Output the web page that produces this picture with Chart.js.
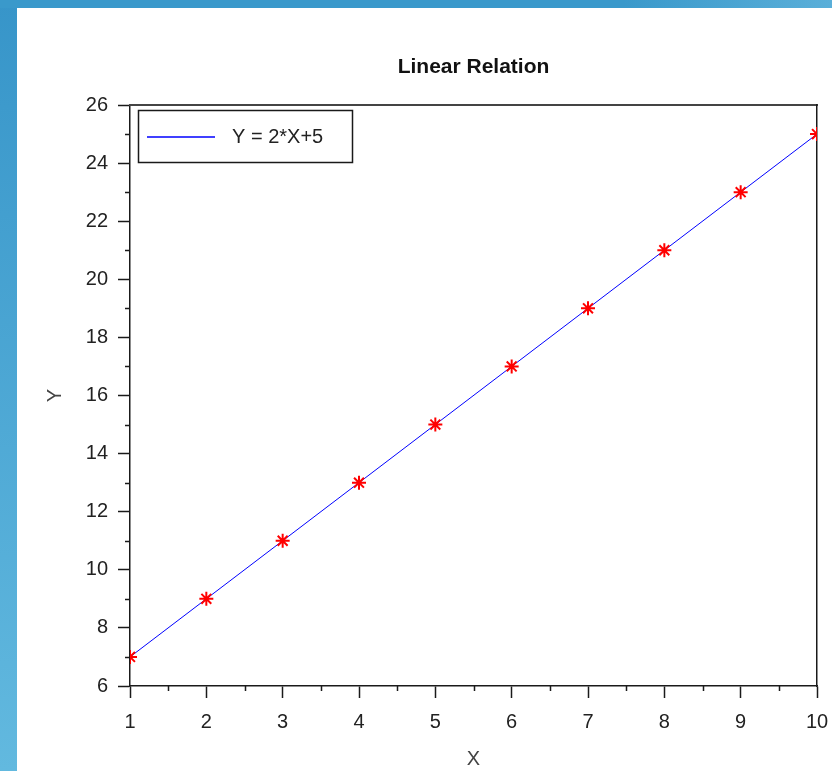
<!DOCTYPE html>
<html lang="en">
    <head>
        <meta charset="utf-8"/>
        <title>Linear Relation</title>
        <script src="https://cdn.jsdelivr.net/npm/chart.js"></script>
        <style type="text/css">
            body {
                margin: 0;
                width: 832px;
                height: 771px;
                overflow: hidden;
                background: linear-gradient(to bottom, #3795c9, #62b9df);
            }
            .topband {
                position: absolute;
                left: 0;
                top: 0;
                width: 832px;
                height: 8px;
                background: linear-gradient(to right, #3a99cb, #3a99cb 75%, #5aafd9);
            }
            .panel {
                position: absolute;
                left: 17px;
                top: 8px;
                width: 815px;
                height: 763px;
                background: #ffffff;
            }
        </style>
    </head>
    <body>
        <div class="topband"></div>
        <div class="panel">
            <canvas id="myChart" width="815" height="763"></canvas>
        </div>

        <script>
            // data
            var xValues = [1, 2, 3, 4, 5, 6, 7, 8, 9, 10];
            var yValues = [7, 9, 11, 13, 15, 17, 19, 21, 23, 25];
            var seriesLabel = 'Y = 2*X+5';
            var chartTitle = 'Linear Relation';
            var xTitle = 'X';
            var yTitle = 'Y';

            var points = [];
            for (var i = 0; i < xValues.length; i++) {
                points.push({x: xValues[i], y: yValues[i]});
            }

            var axisColor = '#1a1a1a';
            var fontName = "'Liberation Sans', Arial, sans-serif";

            // small ticks between the numbered ones
            const minorTicks = {
                id: 'minorTicks',
                afterDraw(chart) {
                    var ctx = chart.ctx;
                    var xs = chart.scales.x, ys = chart.scales.y;
                    ctx.save();
                    ctx.strokeStyle = axisColor;
                    ctx.lineWidth = 1.5;
                    ctx.beginPath();
                    for (var v = xs.min + 0.5; v < xs.max; v += 1) {
                        var px = Math.round(xs.getPixelForValue(v)) + 0.5;
                        ctx.moveTo(px, ys.bottom);
                        ctx.lineTo(px, ys.bottom + 5);
                    }
                    for (var w = ys.min + 1; w < ys.max; w += 2) {
                        var py = Math.round(ys.getPixelForValue(w)) + 0.5;
                        ctx.moveTo(xs.left, py);
                        ctx.lineTo(xs.left - 5, py);
                    }
                    ctx.stroke();
                    ctx.restore();
                }
            };

            // legend box inside the upper left of the plot
            const boxLegend = {
                id: 'boxLegend',
                afterDraw(chart) {
                    var ctx = chart.ctx;
                    var a = chart.chartArea;
                    var ds = chart.data.datasets[0];
                    ctx.save();
                    ctx.strokeStyle = axisColor;
                    ctx.lineWidth = 1.5;
                    ctx.strokeRect(a.left + 8.5, a.top + 5.5, 214, 52);
                    ctx.strokeStyle = ds.borderColor;
                    ctx.lineWidth = 1.5;
                    ctx.beginPath();
                    ctx.moveTo(a.left + 17, a.top + 32);
                    ctx.lineTo(a.left + 85, a.top + 32);
                    ctx.stroke();
                    ctx.fillStyle = '#222';
                    ctx.font = '20px ' + fontName;
                    ctx.textBaseline = 'middle';
                    ctx.fillText(ds.label, a.left + 102, a.top + 32);
                    ctx.restore();
                }
            };

            const config = {
                type: 'line',
                data: {
                    datasets: [{
                        label: seriesLabel,
                        data: points,
                        borderColor: '#0000ff',
                        borderWidth: 1,
                        tension: 0,
                        pointStyle: 'star',
                        pointRadius: 7,
                        pointBorderWidth: 2,
                        pointBorderColor: '#ff0000',
                        pointBackgroundColor: '#ff0000',
                        clip: 0
                    }]
                },
                options: {
                    responsive: false,
                    animation: false,
                    layout: {padding: {left: 0, top: 0, right: 15, bottom: 0}},
                    plugins: {
                        legend: {display: false},
                        tooltip: {enabled: false}
                    },
                    scales: {
                        x: {
                            type: 'linear',
                            position: 'bottom',
                            min: 1,
                            max: 10,
                            ticks: {
                                stepSize: 1,
                                color: '#222',
                                padding: 12,
                                maxRotation: 0,
                                font: {family: fontName, size: 20}
                            },
                            grid: {
                                display: true,
                                drawOnChartArea: false,
                                drawTicks: true,
                                tickLength: 12,
                                tickColor: axisColor,
                                tickWidth: 1.5
                            },
                            border: {display: true, color: axisColor, width: 1.5},
                            title: {
                                display: true,
                                text: xTitle,
                                color: '#444',
                                padding: {top: 0, bottom: 0},
                                font: {family: fontName, size: 20}
                            },
                            afterFit: function (scale) {
                                scale.height = 85;
                                scale.paddingLeft = 0;
                                scale.paddingRight = 0;
                            }
                        },
                        y: {
                            type: 'linear',
                            position: 'left',
                            min: 6,
                            max: 26,
                            ticks: {
                                stepSize: 2,
                                color: '#222',
                                padding: 10,
                                font: {family: fontName, size: 20}
                            },
                            grid: {
                                display: true,
                                drawOnChartArea: false,
                                drawTicks: true,
                                tickLength: 12,
                                tickColor: axisColor,
                                tickWidth: 1.5
                            },
                            border: {display: true, color: axisColor, width: 1.5},
                            title: {
                                display: true,
                                text: yTitle,
                                color: '#444',
                                padding: {top: 26, bottom: 0},
                                font: {family: fontName, size: 20}
                            },
                            afterFit: function (scale) {
                                scale.width = 113;
                                scale.paddingTop = 0;
                                scale.paddingBottom = 0;
                            }
                        },
                        xTop: {
                            type: 'linear',
                            position: 'top',
                            display: true,
                            min: 1,
                            max: 10,
                            ticks: {display: false},
                            grid: {display: false},
                            border: {display: true, color: '#444', width: 2},
                            title: {
                                display: true,
                                text: chartTitle,
                                color: '#111',
                                padding: {top: 47, bottom: 0},
                                font: {family: fontName, size: 21, weight: 'bold'}
                            },
                            afterFit: function (scale) {
                                scale.height = 97;
                                scale.paddingLeft = 0;
                                scale.paddingRight = 0;
                            }
                        },
                        yRight: {
                            type: 'linear',
                            position: 'right',
                            display: true,
                            min: 6,
                            max: 26,
                            ticks: {display: false},
                            grid: {display: false},
                            border: {display: true, color: axisColor, width: 1.5},
                            afterFit: function (scale) {
                                scale.width = 0;
                                scale.paddingTop = 0;
                                scale.paddingBottom = 0;
                            }
                        }
                    }
                },
                plugins: [minorTicks, boxLegend]
            };

            const myChart = new Chart(document.getElementById('myChart'), config);
        </script>
    </body>
</html>
